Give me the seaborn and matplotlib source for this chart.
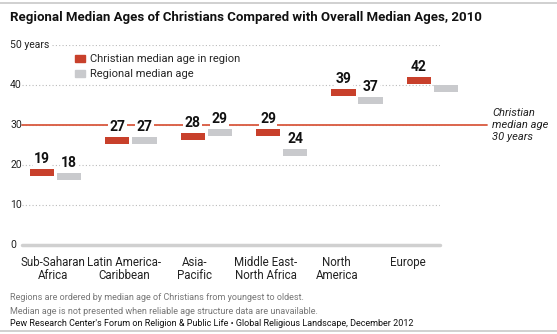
import numpy as np
import pandas as pd
import matplotlib
matplotlib.use('Agg')
import matplotlib.pyplot as plt
import seaborn as sns
from matplotlib.patches import Patch

# ========== 数据 ==========
regions = ['Sub-Saharan\nAfrica', 'Latin America-\nCaribbean', 'Asia-\nPacific',
           'Middle East-\nNorth Africa', 'North\nAmerica', 'Europe']
christian_age = [19, 27, 28, 29, 39, 42]
regional_age = [18, 27, 29, 24, 37, 40]
y_ticks = [0, 10, 20, 30, 40, 50]
y_tick_labels = ['0', '10', '20', '30', '40', '50 years']
christian_overall = 30
series_names = ['Christian median age in region', 'Regional median age']

RED = '#c8402b'
GRAY = '#c9cacd'

sns.set_theme(style='white')
plt.rcParams['font.family'] = ['Roboto', 'Liberation Sans', 'DejaVu Sans']

df = pd.DataFrame({
    'idx': list(range(len(regions))) * 2,
    'age': christian_age + regional_age,
    'series': [series_names[0]] * len(regions) + [series_names[1]] * len(regions),
})
offsets = {series_names[0]: -0.18, series_names[1]: 0.18}
df['x'] = df['idx'] + df['series'].map(offsets)

fig = plt.figure(figsize=(5.57, 3.34), dpi=100)
ax = fig.add_axes([22 / 557, 1 - 245 / 334, 418 / 557, 200 / 334])
ax.set_xlim(-0.444, 5.10)
ax.set_ylim(0, 50)

# 网格线
for t in y_ticks[1:]:
    ax.axhline(t, color='#bbbbbb', lw=0.8, ls=(0, (1, 2)), zorder=0)
ax.axhline(0, color='#d0d0d0', lw=2.5, zorder=1, clip_on=False)

# 30岁参考线
ax.plot([-0.444, 5.72], [christian_overall] * 2, color='#d9593f', lw=1.3,
        zorder=1, clip_on=False)
ax.text(5.79, christian_overall, 'Christian\nmedian age\n30 years', fontsize=8,
        style='italic', va='center', ha='left', linespacing=1.3, color='#222222')

# 短横条标记（顶边对齐数值）
dash = [(-1, 0), (1, 0), (1, -0.56), (-1, -0.56), (-1, 0)]
sns.scatterplot(data=df, x='x', y='age', hue='series',
                palette={series_names[0]: RED, series_names[1]: GRAY},
                marker=dash, s=17.5 ** 2, linewidth=0, legend=False, ax=ax,
                zorder=3, clip_on=False)

for _, r in df.iterrows():
    ax.annotate(str(r['age']), (r['x'], r['age']), xytext=(0, 2),
                textcoords='offset points', ha='center', va='bottom',
                fontsize=10, fontweight='bold', color='#111111', zorder=4,
                bbox=dict(boxstyle='square,pad=0.1', fc='white', ec='none'))

# 坐标轴
ax.set_xticks([i * 0.94 - 0.03 for i in range(len(regions))])
ax.set_xticklabels(regions, fontsize=8.3, linespacing=0.95, color='#222222', va='top')
ax.tick_params(axis='x', length=0, pad=8)
ax.set_yticks([])
for t, lab in zip(y_ticks, y_tick_labels):
    ax.text(-0.6, t, lab, fontsize=7.5, ha='left', va='center', color='#222222',
            bbox=dict(boxstyle='square,pad=0.2', fc='white', ec='none') if t == 50 else None)
ax.set_xlabel('')
ax.set_ylabel('')
sns.despine(ax=ax, left=True, bottom=True)

# 图例
handles = [Patch(color=RED, label=series_names[0]), Patch(color=GRAY, label=series_names[1])]
ax.legend(handles=handles, loc='upper left', bbox_to_anchor=(0.115, 0.975), frameon=False,
          fontsize=8, handlelength=0.9, handleheight=0.7, handletextpad=0.5,
          labelspacing=0.45, borderaxespad=0)

# 标题与脚注
fig.add_artist(plt.Line2D([0, 1], [1 - 3 / 334] * 2, color='#c8c8c8', lw=1.2))
fig.text(10 / 557, 1 - 18 / 334, 'Regional Median Ages of Christians Compared with Overall Median Ages, 2010',
         fontsize=9.5, fontweight='bold', va='center', ha='left', color='#111111')
fig.text(10 / 557, 1 - 298 / 334, 'Regions are ordered by median age of Christians from youngest to oldest.',
         fontsize=6.5, color='#777777', va='center')
fig.text(10 / 557, 1 - 311 / 334, 'Median age is not presented when reliable age structure data are unavailable.',
         fontsize=6.5, color='#777777', va='center')
fig.text(10 / 557, 1 - 324 / 334, "Pew Research Center's Forum on Religion & Public Life \u2022 Global Religious Landscape, December 2012",
         fontsize=6.5, color='#111111', va='center')
fig.add_artist(plt.Line2D([0, 1], [1 - 331 / 334] * 2, color='#c8c8c8', lw=1.2))

fig.savefig('out.png', dpi=100)
